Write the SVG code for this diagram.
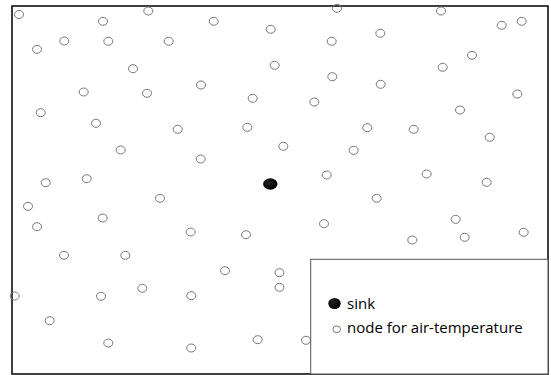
<svg xmlns="http://www.w3.org/2000/svg" width="551" height="375" viewBox="0 0 551 375">
<style>
.n{fill:none;stroke:#777;stroke-width:1}
.t{font-family:"Open Sans","Liberation Sans",sans-serif;font-size:15px;fill:#000}
</style>
<defs>
<radialGradient id="sg" cx="0.4" cy="0.4" r="0.6"><stop offset="0" stop-color="#222"/><stop offset="1" stop-color="#000"/></radialGradient>
<ellipse id="c" class="n" cx="0" cy="0" rx="4.5" ry="4"/>
</defs>
<rect x="0" y="0" width="551" height="375" fill="#fff"/>
<rect id="frame" x="12" y="6" width="536" height="368" fill="#fff" stroke="#000" stroke-width="1.5"/>
<g id="connectors"></g>
<g id="nodes">
<use href="#c" x="19" y="14.5"/>
<use href="#c" x="103" y="21.3"/>
<use href="#c" x="148.3" y="11"/>
<use href="#c" x="213.7" y="21.3"/>
<use href="#c" x="270.7" y="29.3"/>
<use href="#c" x="337" y="8.3"/>
<use href="#c" x="441" y="11"/>
<use href="#c" x="501.7" y="25.3"/>
<use href="#c" x="521.7" y="21.3"/>
<use href="#c" x="37" y="49.3"/>
<use href="#c" x="64.3" y="41"/>
<use href="#c" x="108.3" y="41.3"/>
<use href="#c" x="168.7" y="41.3"/>
<use href="#c" x="331.7" y="41.3"/>
<use href="#c" x="380.3" y="33.3"/>
<use href="#c" x="133" y="68.7"/>
<use href="#c" x="274.7" y="65.3"/>
<use href="#c" x="442.7" y="67.3"/>
<use href="#c" x="472" y="55.3"/>
<use href="#c" x="83.7" y="92"/>
<use href="#c" x="147" y="93.3"/>
<use href="#c" x="201" y="85"/>
<use href="#c" x="252.7" y="98.3"/>
<use href="#c" x="332.3" y="76.7"/>
<use href="#c" x="380.7" y="84.3"/>
<use href="#c" x="314.3" y="102"/>
<use href="#c" x="517.3" y="94"/>
<use href="#c" x="40.7" y="112.7"/>
<use href="#c" x="96" y="123.3"/>
<use href="#c" x="177.7" y="129.3"/>
<use href="#c" x="247.3" y="127.3"/>
<use href="#c" x="367.3" y="127.7"/>
<use href="#c" x="413.7" y="129.3"/>
<use href="#c" x="460" y="110"/>
<use href="#c" x="489.7" y="137.3"/>
<use href="#c" x="120.7" y="150"/>
<use href="#c" x="200.7" y="159"/>
<use href="#c" x="283.3" y="146.3"/>
<use href="#c" x="353.7" y="150.3"/>
<use href="#c" x="45.7" y="182.7"/>
<use href="#c" x="86.7" y="178.7"/>
<use href="#c" x="326.7" y="175"/>
<use href="#c" x="426.7" y="174"/>
<use href="#c" x="486.7" y="182.3"/>
<use href="#c" x="160" y="198.3"/>
<use href="#c" x="376.7" y="198.3"/>
<use href="#c" x="28" y="206.3"/>
<use href="#c" x="102.7" y="218"/>
<use href="#c" x="37" y="226.7"/>
<use href="#c" x="190.7" y="232"/>
<use href="#c" x="246" y="234.7"/>
<use href="#c" x="324" y="223.7"/>
<use href="#c" x="412.3" y="240"/>
<use href="#c" x="455.7" y="219.3"/>
<use href="#c" x="464.7" y="237.3"/>
<use href="#c" x="523.7" y="232.3"/>
<use href="#c" x="64" y="255.3"/>
<use href="#c" x="125.3" y="255.3"/>
<use href="#c" x="225" y="270.7"/>
<use href="#c" x="279.5" y="272.7"/>
<use href="#c" x="279.5" y="287.3"/>
<use href="#c" x="14.7" y="296"/>
<use href="#c" x="101" y="296.3"/>
<use href="#c" x="142.3" y="288.3"/>
<use href="#c" x="191.3" y="295.7"/>
<use href="#c" x="49.7" y="320.7"/>
<use href="#c" x="108.3" y="343"/>
<use href="#c" x="191.3" y="348"/>
<use href="#c" x="257.7" y="339.7"/>
<use href="#c" x="306" y="340.3"/>
</g>
<g id="sink">
<ellipse cx="270.3" cy="184" rx="7.2" ry="5.8" fill="url(#sg)"/>
</g>
<g id="legend">
<rect x="310.7" y="259.3" width="237.3" height="114.7" fill="#fff" stroke="#555" stroke-width="1"/>
<ellipse cx="334.5" cy="303.5" rx="6.2" ry="5.5" fill="url(#sg)"/>
<text class="t" x="347" y="309">sink</text>
<ellipse cx="336.7" cy="329.3" rx="3.8" ry="3.4" class="n" stroke="#555"/>
<text class="t" x="347" y="333.3">node for air-temperature</text>
</g>
</svg>
